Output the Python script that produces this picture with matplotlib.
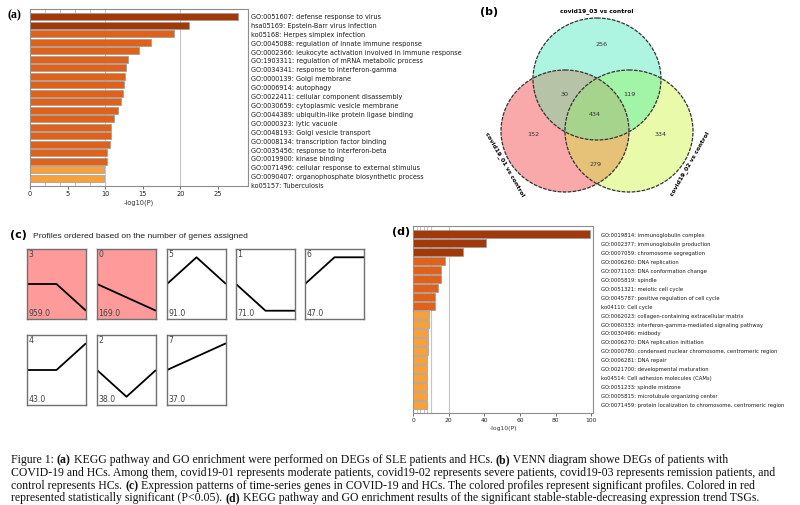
import matplotlib
matplotlib.use('Agg')
import matplotlib.pyplot as plt
from matplotlib.patches import Ellipse, Polygon
import numpy as np

# ---------------- data ----------------
a_labels = [
    "GO:0051607: defense response to virus",
    "hsa05169: Epstein-Barr virus infection",
    "ko05168: Herpes simplex infection",
    "GO:0045088: regulation of innate immune response",
    "GO:0002366: leukocyte activation involved in immune response",
    "GO:1903311: regulation of mRNA metabolic process",
    "GO:0034341: response to interferon-gamma",
    "GO:0000139: Golgi membrane",
    "GO:0006914: autophagy",
    "GO:0022411: cellular component disassembly",
    "GO:0030659: cytoplasmic vesicle membrane",
    "GO:0044389: ubiquitin-like protein ligase binding",
    "GO:0000323: lytic vacuole",
    "GO:0048193: Golgi vesicle transport",
    "GO:0008134: transcription factor binding",
    "GO:0035456: response to interferon-beta",
    "GO:0019900: kinase binding",
    "GO:0071496: cellular response to external stimulus",
    "GO:0090407: organophosphate biosynthetic process",
    "ko05157: Tuberculosis",
]
a_values = [27.7, 21.2, 19.1, 16.1, 14.5, 13.0, 12.8, 12.6, 12.5, 12.4,
            12.1, 11.7, 11.2, 10.8, 10.8, 10.7, 10.2, 10.2, 9.9, 9.8]
a_tiers = [0, 0] + [1] * 16 + [2, 2]
a_ticks = [0, 5, 10, 15, 20, 25]

d_labels = [
    "GO:0019814: immunoglobulin complex",
    "GO:0002377: immunoglobulin production",
    "GO:0007059: chromosome segregation",
    "GO:0006260: DNA replication",
    "GO:0071103: DNA conformation change",
    "GO:0005819: spindle",
    "GO:0051321: meiotic cell cycle",
    "GO:0045787: positive regulation of cell cycle",
    "ko04110: Cell cycle",
    "GO:0062023: collagen-containing extracellular matrix",
    "GO:0060333: interferon-gamma-mediated signaling pathway",
    "GO:0030496: midbody",
    "GO:0006270: DNA replication initiation",
    "GO:0000780: condensed nuclear chromosome, centromeric region",
    "GO:0006281: DNA repair",
    "GO:0021700: developmental maturation",
    "ko04514: Cell adhesion molecules (CAMs)",
    "GO:0051233: spindle midzone",
    "GO:0005815: microtubule organizing center",
    "GO:0071459: protein localization to chromosome, centromeric region",
]
d_values = [99.4, 41.0, 28.3, 17.8, 15.7, 15.7, 13.9, 12.4, 12.4, 9.2,
            8.8, 8.4, 8.4, 8.2, 8.0, 7.9, 7.7, 7.7, 7.7, 7.7]
d_tiers = [0, 0, 0] + [1] * 6 + [2] * 11
d_ticks = [0, 20, 40, 60, 80, 100]

venn_sets = ["covid19_03 vs control", "covid19_01 vs control", "covid19_02 vs control"]
venn_counts = {"T": 256, "L": 152, "R": 334, "TL": 30, "TR": 119, "LR": 279, "TLR": 434}

profile_ids = [3, 0, 5, 1, 6, 4, 2, 7]
profile_values = [[0, 0, -1], [0, -0.5, -1], [0, 1, 0], [0, -1, -1],
                  [0, 1, 1], [0, 0, 1], [0, -1, 0], [0, 0.5, 1]]
profile_counts = [959, 169, 91, 71, 47, 43, 38, 37]
profile_significant = [True, True, False, False, False, False, False, False]

caption_lines = [
    [("Figure 1: ", False), ("(a)", True),
     (" KEGG pathway and GO enrichment were performed on DEGs of SLE patients and HCs. ", False),
     ("(b)", True), (" VENN diagram showe DEGs of patients with", False)],
    [("COVID-19 and HCs. Among them, covid19-01 represents moderate patients, covid19-02 represents severe patients, covid19-03 represents remission patients, and", False)],
    [("control represents HCs. ", False), ("(c)", True),
     (" Expression patterns of time-series genes in COVID-19 and HCs. The colored profiles represent significant profiles. Colored in red", False)],
    [("represented statistically significant (P<0.05). ", False), ("(d)", True),
     (" KEGG pathway and GO enrichment results of the significant stable-stable-decreasing expression trend TSGs.", False)],
]

# ---------------- figure ----------------
W, H = 800, 505
fig = plt.figure(figsize=(8, 5.05), dpi=100)
fig.patch.set_facecolor('white')
tier_colors = ['#A2390A', '#E0611A', '#F8A03C']
SANS = 'DejaVu Sans'


def ax_px(x0, y0, x1, y1):
    return fig.add_axes([x0 / W, 1 - y1 / H, (x1 - x0) / W, (y1 - y0) / H])


def fig_text(x, y, s, **kw):
    return fig.text(x / W, 1 - y / H, s, **kw)


def bar_panel(box, values, tiers, ticks, xmax, fs):
    ax = ax_px(*box)
    n = len(values)
    ax.barh(range(n), values, height=0.8,
            color=[tier_colors[t] for t in tiers],
            edgecolor='#9a9a9a', linewidth=0.5, zorder=3)
    ax.set_ylim(n - 0.1, -0.9)
    ax.set_xlim(0, xmax)
    for g in (10, 20):
        ax.axvline(g, color='#c4c4c4', lw=0.8, zorder=1)
    ax.set_yticks([])
    ax.set_xticks(ticks)
    ax.set_xticks([2, 4, 6, 8], minor=True)
    ax.tick_params(axis='x', labelsize=fs, length=2, width=0.6, pad=1.5,
                   colors='#555555', labelcolor='#222222')
    ax.tick_params(axis='x', which='minor', direction='in', length=3,
                   width=0.5, top=True, colors='#aaaaaa')
    for s in ax.spines.values():
        s.set_color('#8c8c8c')
        s.set_linewidth(0.8)
    ax.set_xlabel('-log10(P)', fontsize=fs, labelpad=2, color='#333333')
    return ax


# ---- panel (a)
ax_a = bar_panel((30, 9, 248, 186), a_values, a_tiers, a_ticks, 29, 4.8)
for i, lab in enumerate(a_labels):
    fig_text(251, 17 + i * 8.9, lab, fontsize=4.7, family=SANS,
             va='center', ha='left', color='#1a1a1a')
fig_text(8, 15, '(a)', fontsize=8.5, family='Liberation Serif',
         weight='bold', va='center', ha='left')

# ---- panel (d)
ax_d = bar_panel((413, 226, 593, 413), d_values, d_tiers, d_ticks, 101, 4.3)
for i, lab in enumerate(d_labels):
    fig_text(601, 236 + i * 8.9, lab, fontsize=3.8, family=SANS,
             va='center', ha='left', color='#1a1a1a')
fig_text(392, 232, '(d)', fontsize=8, family=SANS, weight='bold',
         va='center', ha='left')

# ---- panel (b) Venn
ax_b = ax_px(470, 0, 730, 205)
ax_b.set_xlim(470, 730)
ax_b.set_ylim(205, 0)
ax_b.axis('off')

centers = {"T": (597, 79), "L": (565, 131), "R": (629, 131)}
rx, ry = 64, 61


def ell_poly(c, n=240):
    t = np.linspace(0, 2 * np.pi, n, endpoint=False)
    return np.column_stack([c[0] + rx * np.cos(t), c[1] + ry * np.sin(t)])


def clip_convex(subject, clipper):
    def inside(p, a, b):
        return (b[0] - a[0]) * (p[1] - a[1]) - (b[1] - a[1]) * (p[0] - a[0]) >= 0

    def inter(p1, p2, a, b):
        d1 = p2 - p1
        d2 = b - a
        den = d1[0] * d2[1] - d1[1] * d2[0]
        t = ((a[0] - p1[0]) * d2[1] - (a[1] - p1[1]) * d2[0]) / den
        return p1 + t * d1

    out = [np.asarray(p) for p in subject]
    m = len(clipper)
    for i in range(m):
        a, b = clipper[i], clipper[(i + 1) % m]
        inp = out
        out = []
        if not inp:
            break
        s = inp[-1]
        for e in inp:
            if inside(e, a, b):
                if not inside(s, a, b):
                    out.append(inter(s, e, a, b))
                out.append(e)
            elif inside(s, a, b):
                out.append(inter(s, e, a, b))
            s = e
    return np.array(out)


P = {k: ell_poly(c) for k, c in centers.items()}
region_colors = {"T": '#aef5e1', "L": '#f9a9a9', "R": '#e9faaa',
                 "TL": '#b6c3a6', "TR": '#a2f4a6', "LR": '#e6c279', "TLR": '#a6d48d'}
for k in ("T", "L", "R"):
    ax_b.add_patch(Polygon(P[k], closed=True, facecolor=region_colors[k],
                           edgecolor='none', zorder=1))
TL = clip_convex(P["T"], P["L"])
TR = clip_convex(P["T"], P["R"])
LR = clip_convex(P["L"], P["R"])
TLR = clip_convex(TL, P["R"])
for k, poly in (("TL", TL), ("TR", TR), ("LR", LR), ("TLR", TLR)):
    ax_b.add_patch(Polygon(poly, closed=True, facecolor=region_colors[k],
                           edgecolor='none', zorder=2))
for k, c in centers.items():
    ax_b.add_patch(Ellipse(c, 2 * rx, 2 * ry, fill=False, edgecolor='#333333',
                           lw=0.9, linestyle=(0, (3, 1)), zorder=3))

count_pos = {"T": (602, 44), "L": (533, 135), "R": (661, 135), "TL": (565, 94),
             "TR": (629, 94), "LR": (596, 164), "TLR": (595, 114)}
for k, v in venn_counts.items():
    ax_b.text(*count_pos[k], str(v), fontsize=4.6, ha='center', va='center',
              color='#333333', family=SANS, zorder=4)
ax_b.text(597, 11, venn_sets[0], fontsize=4.3, weight='bold', ha='center',
          va='center', family=SANS, zorder=4)
ax_b.text(505, 164, venn_sets[1], fontsize=4.3, weight='bold', ha='center',
          va='center', rotation=-60, family=SANS, zorder=4)
ax_b.text(690, 164, venn_sets[2], fontsize=4.3, weight='bold', ha='center',
          va='center', rotation=60, family=SANS, zorder=4)
fig_text(480, 12, '(b)', fontsize=8, family=SANS, weight='bold',
         va='center', ha='left')

# ---- panel (c) profiles
fig_text(10, 235, '(c)', fontsize=8, family=SANS, weight='bold',
         va='center', ha='left')
fig_text(33, 236, 'Profiles ordered based on the number of genes assigned',
         fontsize=6.1, family='Liberation Sans', va='center', ha='left',
         color='#222222')
col_x = [27, 97, 167, 236, 305]
row_y = [249, 335]
bw, bh = 59, 70
for i, (pid, vals, cnt, sig) in enumerate(zip(profile_ids, profile_values,
                                               profile_counts, profile_significant)):
    r, c = divmod(i, 5)
    x0, y0 = col_x[c], row_y[r]
    ax = ax_px(x0, y0, x0 + bw, y0 + bh)
    ax.plot(range(len(vals)), vals, color='black', lw=1.3, solid_capstyle='butt')
    ax.set_xlim(0, len(vals) - 1)
    ax.set_ylim(-1.31, 1.31)
    ax.set_xticks([])
    ax.set_yticks([])
    ax.set_facecolor('#ff9a9a' if sig else 'white')
    for s in ax.spines.values():
        s.set_color('#707070')
        s.set_linewidth(1.0)
    ax.text(0.02, 0.985, str(pid), transform=ax.transAxes, fontsize=5.6,
            va='top', ha='left', color='#444444', family=SANS)
    ax.text(0.02, 0.01, f"{cnt:.1f}", transform=ax.transAxes, fontsize=5.6,
            va='bottom', ha='left', color='#444444', family=SANS)

# ---- caption
renderer = fig.canvas.get_renderer()
cap_y = [460, 473, 486, 498.5]
for y, runs in zip(cap_y, caption_lines):
    cx = 11
    for txt, bold in runs:
        t = fig_text(cx, y, txt, fontsize=8.5, family='Liberation Serif',
                     weight='bold' if bold else 'normal', va='center', ha='left',
                     color='#111111')
        bb = t.get_window_extent(renderer=renderer)
        cx += bb.width

fig.savefig('out.png', dpi=100, facecolor='white')
